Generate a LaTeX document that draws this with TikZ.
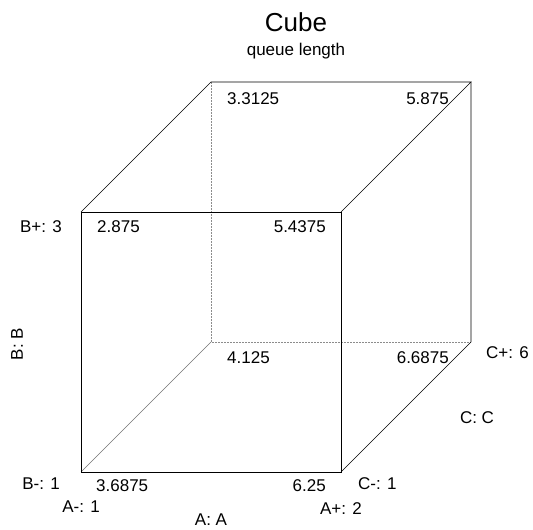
\documentclass[tikz,border=0pt]{standalone}
\usepackage{fontspec}
\setmainfont{Liberation Sans}
\usetikzlibrary{calc,positioning}

\begin{document}
\begin{tikzpicture}[x=1pt, y=1pt, node distance=8pt,
    edge/.style={black, line width=0.7pt},
    hidden/.style={black!45, line width=0.6pt, dash pattern=on 2pt off 1pt},
    diag/.style={black!55, line width=0.6pt},
    val/.style={font=\fontsize{17}{20}\selectfont, inner sep=0pt},
    lab/.style={font=\fontsize{17}{20}\selectfont, inner sep=0pt}]
    \useasboundingbox (0,0) rectangle (533,530);
    \coordinate (fbl) at (81,58);
    \coordinate (fbr) at (341,58);
    \coordinate (ftl) at (81,318);
    \coordinate (ftr) at (341,318);
    \coordinate (bbl) at (211,188);
    \coordinate (bbr) at (471,188);
    \coordinate (btl) at (211,448);
    \coordinate (btr) at (471,448);
    \node[font=\fontsize{26}{30}\selectfont] (title) at (296,508) {Cube};
    \node[font=\fontsize{17}{20}\selectfont, inner sep=0pt, below=8pt of title] (subtitle) {queue length};
    \draw[hidden] (btl) -- (bbl) -- (bbr);
    \draw[diag] (bbl) -- (fbl);
    \draw[edge] (fbl) -- (fbr) -- (ftr) -- (ftl) -- cycle;
    \draw[edge] (ftl) -- (btl) -- (btr) -- (ftr);
    \draw[edge] (btr) -- (bbr) -- (fbr);
    \node[val, below right=10pt and 16pt of btl] (v212) {3.3125};
    \node[val, below left=10pt and 22pt of btr] (v222) {5.875};
    \node[val, below right=8pt and 16pt of ftl] (v112) {2.875};
    \node[val, below left=8pt and 15pt of ftr] (v122) {5.4375};
    \node[val, below right=9pt and 16pt of bbl] (v211) {4.125};
    \node[val, below left=9pt and 22pt of bbr] (v221) {6.6875};
    \node[val, below right=7pt and 15pt of fbl] (v111) {3.6875};
    \node[val, below left=7pt and 15pt of fbr] (v121) {6.25};
    \node[lab, below left=8pt and 19pt of ftl] (bplus) {B+: 3};
    \node[lab, below left=6pt and 21pt of fbl] (bminus) {B-: 1};
    \node[lab, rotate=90] (baxis) at ($(fbl)!0.5!(ftl)+(-64,-2)$) {B: B};
    \node[lab, below=29pt of fbl] (aminus) {A-: 1};
    \node[lab, below=30pt of fbr] (aplus) {A+: 2};
    \node[lab, below=42pt of $(fbl)!0.5!(fbr)$] (aaxis) {A: A};
    \node[lab, below right=5pt and 17pt of fbr] (cminus) {C-: 1};
    \node[lab, below right=4pt and 15pt of bbr] (cplus) {C+: 6};
    \node[lab] (caxis) at (477,112) {C: C};
\end{tikzpicture}
\end{document}
